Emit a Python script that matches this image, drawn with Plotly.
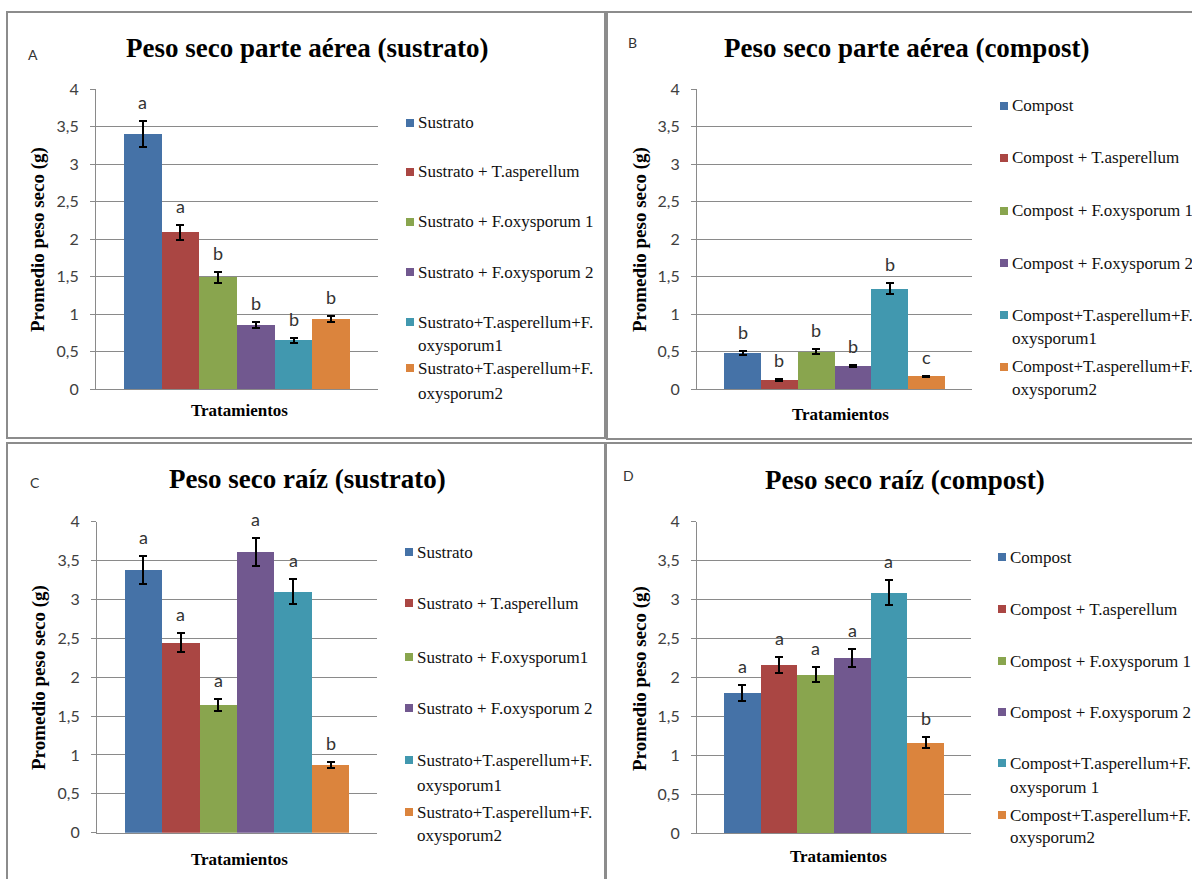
import plotly.graph_objects as go

# ---------------- data ----------------
colors = ["#4572A7", "#AA4643", "#89A54E", "#71588F", "#4198AF", "#DB843D"]

treat_sustrato_A = ["Sustrato", "Sustrato + T.asperellum", "Sustrato + F.oxysporum 1",
                    "Sustrato + F.oxysporum 2", "Sustrato+T.asperellum+F.\noxysporum1",
                    "Sustrato+T.asperellum+F.\noxysporum2"]
treat_compost_B = ["Compost", "Compost + T.asperellum", "Compost + F.oxysporum 1",
                   "Compost + F.oxysporum 2", "Compost+T.asperellum+F.\noxysporum1",
                   "Compost+T.asperellum+F.\noxysporum2"]
treat_sustrato_C = ["Sustrato", "Sustrato + T.asperellum", "Sustrato + F.oxysporum1",
                    "Sustrato + F.oxysporum 2", "Sustrato+T.asperellum+F.\noxysporum1",
                    "Sustrato+T.asperellum+F.\noxysporum2"]
treat_compost_D = ["Compost", "Compost + T.asperellum", "Compost + F.oxysporum 1",
                   "Compost + F.oxysporum 2", "Compost+T.asperellum+F.\noxysporum 1",
                   "Compost+T.asperellum+F.\noxysporum2"]

vals_A = [3.40, 2.09, 1.49, 0.85, 0.65, 0.93]
err_A = [0.17, 0.10, 0.07, 0.04, 0.03, 0.04]
let_A = ["a", "a", "b", "b", "b", "b"]

vals_B = [0.48, 0.12, 0.50, 0.31, 1.34, 0.17]
err_B = [0.03, 0.01, 0.03, 0.015, 0.07, 0.01]
let_B = ["b", "b", "b", "b", "b", "c"]

vals_C = [3.38, 2.45, 1.64, 3.61, 3.10, 0.87]
err_C = [0.18, 0.12, 0.075, 0.18, 0.16, 0.04]
let_C = ["a", "a", "a", "a", "a", "b"]

vals_D = [1.80, 2.16, 2.04, 2.25, 3.09, 1.16]
err_D = [0.10, 0.10, 0.10, 0.11, 0.16, 0.07]
let_D = ["a", "a", "a", "a", "a", "b"]

titles = ["Peso seco parte aérea (sustrato)", "Peso seco parte aérea (compost)",
          "Peso seco raíz (sustrato)", "Peso seco raíz (compost)"]
panel_letters = ["A", "B", "C", "D"]
y_title = "Promedio peso seco (g)"
x_title = "Tratamientos"
y_ticks = [0, 0.5, 1, 1.5, 2, 2.5, 3, 3.5, 4]
y_ticktext = ["0", "0,5", "1", "1,5", "2", "2,5", "3", "3,5", "4"]

# ---------------- layout geometry (pixels) ----------------
W, H = 1192, 879
def fx(px): return px / W
def fy(py): return 1 - py / H

panels = [
    dict(vals=vals_A, err=err_A, let=let_A, cats=treat_sustrato_A,
         plot=(96, 378, 89, 389), border=(7, 12, 605, 438),
         title_xy=(307, 48), letter_xy=(33, 55), ytitle_xy=(38, 240), xtitle_xy=(240, 410),
         leg_x=406, leg_rows=[123, 172, 222, 272, (322, 345), (368, 393)]),
    dict(vals=vals_B, err=err_B, let=let_B, cats=treat_compost_B,
         plot=(697, 972, 89, 389), border=(607, 12, 1196, 439),
         title_xy=(906, 48), letter_xy=(632, 43), ytitle_xy=(640, 240), xtitle_xy=(840, 414),
         leg_x=1000, leg_rows=[106, 158, 211, 263, (315, 339), (367, 390)]),
    dict(vals=vals_C, err=err_C, let=let_C, cats=treat_sustrato_C,
         plot=(97, 377, 521.7, 832.7), border=(7, 443, 605, 884),
         title_xy=(307, 479), letter_xy=(35, 482), ytitle_xy=(39, 678), xtitle_xy=(240, 859),
         leg_x=405, leg_rows=[552, 603, 657, 708, (760, 785), (812, 835)]),
    dict(vals=vals_D, err=err_D, let=let_D, cats=treat_compost_D,
         plot=(697, 971, 521.7, 833.3), border=(606, 443, 1196, 884),
         title_xy=(905, 480), letter_xy=(628, 475), ytitle_xy=(640, 679), xtitle_xy=(838, 856),
         leg_x=998, leg_rows=[557, 609, 661, 712, (763, 787), (815, 837)]),
]

fig = go.Figure()
shapes = []
annotations = []
layout_axes = {}

GRID = "#8a8a8a"
SANS = "Lato, 'Liberation Sans', sans-serif"
SERIF = "'Liberation Serif', 'Times New Roman', serif"
TICKFONT = dict(family=SANS, size=16, color="#404040")
LEG_SIZE = 17
MK = 8

for i, p in enumerate(panels):
    n = "" if i == 0 else str(i + 1)
    xa, ya = "x" + n, "y" + n
    cats_flat = [c.replace("\n", "") for c in p["cats"]]
    upper = [v + e for v, e in zip(p["vals"], p["err"])]

    fig.add_trace(go.Bar(
        x=cats_flat, y=p["vals"], xaxis=xa, yaxis=ya,
        marker=dict(color=colors, line=dict(width=0)),
        error_y=dict(type="data", array=p["err"], visible=True,
                     color="black", thickness=2, width=4),
        showlegend=False, hoverinfo="x+y",
    ))

    x0, x1, ytop, ybot = p["plot"]
    layout_axes["xaxis" + n] = dict(
        domain=[fx(x0), fx(x1)], anchor=ya, type="category", automargin=False,
        range=[-1.24, 6.24], showticklabels=False, ticks="",
        showgrid=False, showline=True, linecolor=GRID, linewidth=1,
        zeroline=False, fixedrange=True,
    )
    layout_axes["yaxis" + n] = dict(
        domain=[fy(ybot), fy(ytop)], anchor=xa, range=[0, 4], automargin=False,
        tickvals=y_ticks, ticktext=y_ticktext, tickfont=TICKFONT,
        ticks="outside", ticklen=5, tickcolor=GRID, ticklabelstandoff=8,
        showgrid=True, gridcolor=GRID, gridwidth=1,
        showline=True, linecolor=GRID, linewidth=1, zeroline=False, fixedrange=True,
    )

    # significance letters above the error bars
    for c, u, l in zip(cats_flat, upper, p["let"]):
        annotations.append(dict(
            x=c, y=u, xref=xa, yref=ya, text=l, showarrow=False,
            yanchor="bottom", yshift=6,
            font=dict(family=SANS, size=18, color="#333333"),
        ))

    # panel border
    bx0, by0, bx1, by1 = p["border"]
    shapes.append(dict(type="rect", xref="paper", yref="paper",
                       x0=fx(bx0), x1=fx(bx1), y0=fy(by1), y1=fy(by0),
                       line=dict(color="#8c8c8c", width=2), fillcolor="rgba(0,0,0,0)"))

    # title
    tx, ty = p["title_xy"]
    annotations.append(dict(x=fx(tx), y=fy(ty), xref="paper", yref="paper",
                            text="<b>" + titles[i] + "</b>", showarrow=False,
                            xanchor="center", yanchor="middle",
                            font=dict(family=SERIF, size=27, color="black")))
    # panel letter
    lx, ly = p["letter_xy"]
    annotations.append(dict(x=fx(lx), y=fy(ly), xref="paper", yref="paper",
                            text=panel_letters[i], showarrow=False,
                            xanchor="center", yanchor="middle",
                            font=dict(family=SANS, size=14, color="#333333")))
    # axis titles
    yx, yy = p["ytitle_xy"]
    annotations.append(dict(x=fx(yx), y=fy(yy), xref="paper", yref="paper",
                            text="<b>" + y_title + "</b>", showarrow=False, textangle=-90,
                            xanchor="center", yanchor="middle",
                            font=dict(family=SERIF, size=19, color="black")))
    xx, xy = p["xtitle_xy"]
    annotations.append(dict(x=fx(xx), y=fy(xy), xref="paper", yref="paper",
                            text="<b>" + x_title + "</b>", showarrow=False,
                            xanchor="center", yanchor="middle",
                            font=dict(family=SERIF, size=17, color="black")))

    # legend (drawn manually to keep the original spacing)
    for label, col, row in zip(p["cats"], colors, p["leg_rows"]):
        lines = label.split("\n")
        rows = row if isinstance(row, tuple) else (row,)
        y_first = rows[0]
        shapes.append(dict(type="rect", xref="paper", yref="paper",
                           x0=fx(p["leg_x"]), x1=fx(p["leg_x"] + MK),
                           y0=fy(y_first + MK / 2), y1=fy(y_first - MK / 2),
                           line=dict(width=0), fillcolor=col))
        for txt, ry in zip(lines, rows):
            annotations.append(dict(x=fx(p["leg_x"] + MK + 2), y=fy(ry), xref="paper", yref="paper",
                                    text=txt, showarrow=False, xanchor="left", yanchor="middle",
                                    font=dict(family=SERIF, size=LEG_SIZE, color="#111111")))

fig.update_layout(
    width=W, height=H, autosize=False, margin=dict(l=0, r=0, t=0, b=0, pad=0, autoexpand=False),
    paper_bgcolor="white", plot_bgcolor="white",
    bargap=0, shapes=shapes, annotations=annotations, showlegend=False,
    **layout_axes,
)

fig.write_html(
    "out.html",
    config={"responsive": False, "displayModeBar": False},
    post_script="document.documentElement.style.margin='0';document.body.style.margin='0';"
                "document.body.style.padding='0';document.body.style.overflow='hidden';",
)
